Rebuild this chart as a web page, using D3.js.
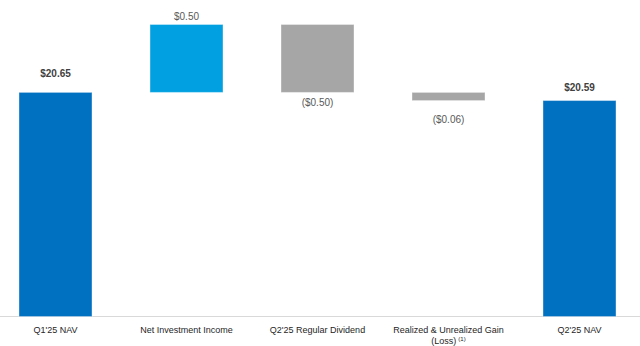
<!DOCTYPE html>
<html>
<head>
<meta charset="utf-8">
<script src="https://cdn.jsdelivr.net/npm/d3@7"></script>
<style>
  html, body { margin: 0; padding: 0; background: #fff; }
  svg { display: block; font-family: "Liberation Sans", Arial, sans-serif; }
</style>
</head>
<body>
<svg id="chart" width="640" height="346"></svg>
<script>
// ---- data ----
const categories = ["Q1'25 NAV", "Net Investment Income", "Q2'25 Regular Dividend", "Realized & Unrealized Gain", "Q2'25 NAV"];
const categorySecondLine = ["", "", "", "(Loss)", ""];
const categoryFootnote = ["", "", "", "(1)", ""];
const kinds = ["total", "delta", "delta", "delta", "total"];
const values = [20.65, 0.50, -0.50, -0.06, 20.59];
const valueLabels = ["$20.65", "$0.50", "($0.50)", "($0.06)", "$20.59"];
const axisBase = 19.0;
const axisTop = 21.15;

// ---- build waterfall segments ----
let running = 0;
const segs = values.map((v, i) => {
  let y0, y1;
  if (kinds[i] === "total") { y0 = axisBase; y1 = v; running = v; }
  else { y0 = running; y1 = running + v; running = y1; }
  return { cat: categories[i], kind: kinds[i], value: v, lo: Math.min(y0, y1), hi: Math.max(y0, y1), label: valueLabels[i], i };
});

const W = 640, H = 346;
const svg = d3.select("#chart");

const x = d3.scaleBand().domain(categories).range([-10, 645]).paddingInner(0.443).paddingOuter(0.2215);
const y = d3.scaleLinear().domain([axisBase, axisTop]).range([316.5, 24.5]);

function colorFor(d) {
  if (d.kind === "total") return "#0070C0";
  return d.value >= 0 ? "#00A0E1" : "#A6A6A6";
}

// baseline
svg.append("line")
  .attr("x1", 0).attr("x2", W)
  .attr("y1", y(axisBase)).attr("y2", y(axisBase))
  .attr("stroke", "#D9D9D9").attr("stroke-width", 1);

// bars
svg.selectAll("rect.bar").data(segs).join("rect")
  .attr("class", "bar")
  .attr("x", d => x(d.cat))
  .attr("width", x.bandwidth())
  .attr("y", d => y(d.hi))
  .attr("height", d => y(d.lo) - y(d.hi))
  .attr("fill", colorFor)
  .attr("stroke", "#ffffff").attr("stroke-opacity", 0.35).attr("stroke-width", 1);

const aboveGap = [15, 4.5, 0, 0, 10];
const belowGap = [0, 0, 14, 22.5, 0];
svg.selectAll("text.val").data(segs).join("text")
  .attr("class", "val")
  .attr("x", d => x(d.cat) + x.bandwidth() / 2)
  .attr("y", d => (d.value >= 0 ? y(d.hi) - aboveGap[d.i] : y(d.lo) + belowGap[d.i]))
  .attr("text-anchor", "middle")
  .attr("font-size", 10)
  .attr("font-weight", d => d.kind === "total" ? "bold" : "normal")
  .attr("fill", d => d.kind === "total" ? "#404040" : "#595959")
  .text(d => d.label);

// category labels
const catG = svg.selectAll("g.cat").data(categories).join("g")
  .attr("class", "cat")
  .attr("transform", d => `translate(${x(d) + x.bandwidth() / 2},0)`);

catG.append("text")
  .attr("y", 333)
  .attr("text-anchor", "middle")
  .attr("font-size", 9)
  .attr("fill", "#262626")
  .text(d => d);

catG.each(function(d, i) {
  if (!categorySecondLine[i]) return;
  const t = d3.select(this).append("text")
    .attr("y", 343.5)
    .attr("text-anchor", "middle")
    .attr("font-size", 9)
    .attr("fill", "#262626");
  t.append("tspan").text(categorySecondLine[i]);
  if (categoryFootnote[i]) {
    t.append("tspan").attr("dx", 2).attr("dy", -3).attr("font-size", 6).text(categoryFootnote[i]);
  }
});
</script>
</body>
</html>
